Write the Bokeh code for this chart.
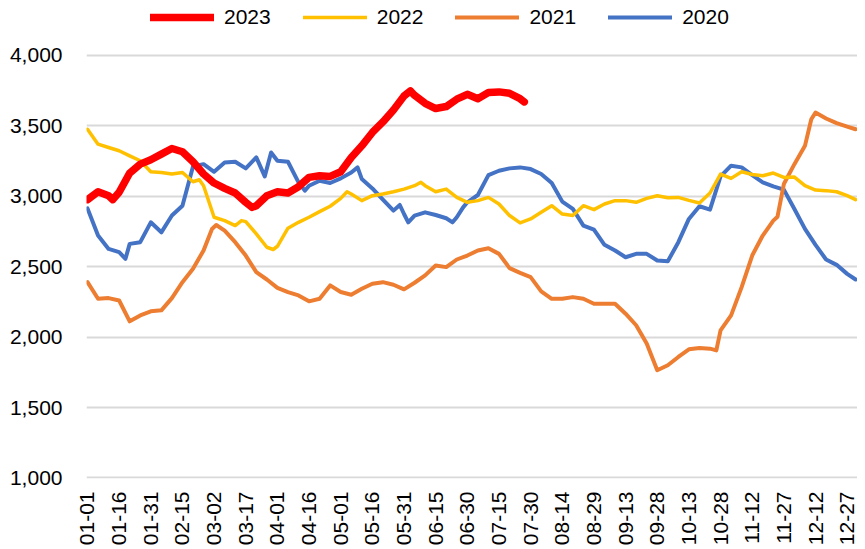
import math
from bokeh.plotting import figure
from bokeh.models import (Range1d, FixedTicker, NumeralTickFormatter, Legend, LegendItem)
from bokeh.embed import file_html
from bokeh.resources import INLINE

# ---- data (day of year index, value) ----
tick_days = [0, 15, 30, 45, 60, 75, 90, 105, 120, 135, 150, 165, 180, 195, 210, 225,
             240, 255, 270, 285, 300, 315, 330, 345, 360]
tick_labels = ["01-01", "01-16", "01-31", "02-15", "03-02", "03-17", "04-01", "04-16",
               "05-01", "05-16", "05-31", "06-15", "06-30", "07-15", "07-30", "08-14",
               "08-29", "09-13", "09-28", "10-13", "10-28", "11-12", "11-27", "12-12", "12-27"]
y_ticks = [1000, 1500, 2000, 2500, 3000, 3500, 4000]

d2023 = [0, 5, 10, 12, 15, 20, 25, 30, 35, 40, 45, 50, 55, 60, 65, 70, 75, 78, 80, 85, 90,
         95, 100, 105, 110, 115, 120, 125, 130, 135, 140, 145, 150, 153, 155, 160, 165, 170,
         175, 180, 185, 190, 195, 200, 205, 207]
v2023 = [2976, 3032, 3004, 2976, 3028, 3165, 3228, 3259, 3299, 3339, 3316, 3245, 3158, 3094,
         3056, 3023, 2957, 2921, 2933, 3004, 3032, 3023, 3068, 3134, 3146, 3141, 3174, 3275,
         3358, 3453, 3528, 3613, 3712, 3748, 3717, 3660, 3623, 3637, 3689, 3724, 3693, 3736,
         3741, 3731, 3693, 3670]

d2022 = [0, 5, 10, 15, 20, 25, 30, 35, 40, 45, 50, 53, 55, 60, 65, 70, 73, 75, 80, 85, 88, 90,
         95, 100, 105, 110, 115, 120, 123, 125, 130, 135, 140, 145, 150, 155, 158, 160, 165,
         170, 175, 180, 185, 190, 195, 200, 205, 210, 215, 220, 225, 230, 235, 240, 245, 250,
         255, 260, 265, 270, 275, 280, 285, 290, 295, 300, 305, 310, 315, 320, 325, 330, 335,
         340, 345, 350, 355, 360, 364]
v2022 = [3476, 3370, 3346, 3323, 3287, 3252, 3174, 3169, 3158, 3169, 3103, 3117, 3075, 2851,
         2827, 2792, 2827, 2820, 2733, 2638, 2622, 2645, 2773, 2815, 2851, 2891, 2929, 2985,
         3032, 3016, 2969, 3004, 3016, 3032, 3051, 3075, 3099, 3075, 3032, 3051, 2992, 2957,
         2969, 2992, 2945, 2863, 2811, 2839, 2886, 2933, 2874, 2863, 2933, 2905, 2945, 2969,
         2969, 2957, 2985, 3004, 2990, 2992, 2971, 2952, 3023, 3158, 3127, 3174, 3155, 3146,
         3165, 3134, 3136, 3075, 3044, 3040, 3032, 3004, 2976]

d2021 = [0, 5, 10, 15, 20, 25, 30, 35, 40, 45, 50, 55, 59, 61, 65, 70, 75, 80, 85, 90, 95,
         100, 105, 110, 115, 120, 125, 130, 135, 140, 145, 150, 155, 160, 165, 170, 175, 180,
         185, 190, 195, 200, 205, 210, 215, 220, 225, 230, 235, 240, 245, 250, 255, 260, 265,
         270, 275, 280, 285, 290, 295, 298, 300, 305, 310, 315, 320, 325, 327, 330, 335, 340,
         343, 345, 350, 355, 360, 364]
v2021 = [2390, 2272, 2277, 2260, 2112, 2154, 2183, 2190, 2277, 2390, 2485, 2615, 2768, 2796,
         2756, 2674, 2579, 2461, 2409, 2350, 2320, 2296, 2254, 2272, 2367, 2320, 2301, 2343,
         2379, 2390, 2372, 2339, 2386, 2438, 2508, 2497, 2551, 2579, 2615, 2631, 2591, 2490,
         2456, 2426, 2325, 2272, 2272, 2284, 2272, 2237, 2237, 2237, 2166, 2084, 1954, 1765,
         1800, 1859, 1913, 1923, 1918, 1906, 2048, 2154, 2355, 2579, 2721, 2827, 2855, 3087,
         3228, 3358, 3547, 3594, 3552, 3519, 3495, 3476]

d2020 = [0, 5, 10, 15, 18, 20, 25, 30, 35, 40, 45, 50, 55, 60, 65, 70, 75, 80, 84, 87, 90, 95,
         100, 103, 105, 110, 115, 120, 125, 128, 130, 135, 140, 145, 148, 150, 152, 155, 160,
         165, 170, 173, 175, 178, 180, 185, 190, 195, 200, 205, 210, 215, 220, 225, 230, 235,
         240, 245, 250, 255, 260, 265, 270, 275, 280, 285, 290, 295, 300, 305, 310, 315, 320,
         325, 330, 335, 340, 345, 350, 355, 360, 364]
v2020 = [2914, 2721, 2626, 2603, 2556, 2662, 2674, 2815, 2744, 2863, 2933, 3212, 3228, 3174,
         3240, 3245, 3198, 3276, 3141, 3311, 3252, 3245, 3099, 3040, 3075, 3110, 3094, 3127,
         3169, 3205, 3122, 3056, 2976, 2898, 2938, 2874, 2815, 2863, 2886, 2867, 2844, 2815,
         2851, 2921, 2957, 3009, 3150, 3181, 3198, 3205, 3193, 3158, 3094, 2962, 2910, 2792,
         2763, 2655, 2615, 2567, 2591, 2591, 2544, 2538, 2674, 2839, 2929, 2905, 3141, 3217,
         3205, 3150, 3099, 3070, 3047, 2910, 2768, 2655, 2551, 2513, 2449, 2409]

FONT = "Liberation Sans"
FS = "21px"

p = figure(width=857, height=548, output_backend="svg", toolbar_location=None,
           x_range=Range1d(-0.47, 364.9), y_range=Range1d(996, 4390),
           min_border_left=86, min_border_right=0, min_border_top=0, min_border_bottom=70)
p.outline_line_color = None
p.background_fill_color = "white"
p.border_fill_color = "white"

r20 = p.line(d2020, v2020, line_color="#4472C4", line_width=4, line_join="round", line_cap="round")
r21 = p.line(d2021, v2021, line_color="#ED7D31", line_width=4, line_join="round", line_cap="round")
r22 = p.line(d2022, v2022, line_color="#FFC000", line_width=3.5, line_join="round", line_cap="round")
r23 = p.line(d2023, v2023, line_color="#FF0000", line_width=7.5, line_join="round", line_cap="round")

# axes
p.xaxis.ticker = FixedTicker(ticks=tick_days)
p.xaxis.major_label_overrides = {d: s for d, s in zip(tick_days, tick_labels)}
p.xaxis.major_label_orientation = math.pi / 2
p.xaxis.major_label_standoff = 13
p.yaxis.ticker = FixedTicker(ticks=y_ticks)
p.yaxis.formatter = NumeralTickFormatter(format="0,0")
p.yaxis.major_label_standoff = 24
for ax in (p.xaxis[0], p.yaxis[0]):
    ax.axis_line_color = None
    ax.major_tick_line_color = None
    ax.minor_tick_line_color = None
    ax.major_tick_out = 0
    ax.major_tick_in = 0
    ax.major_label_text_font = FONT
    ax.major_label_text_font_size = FS
    ax.major_label_text_color = "#000000"

p.xgrid.visible = False
p.ygrid.ticker = FixedTicker(ticks=y_ticks)
p.ygrid.grid_line_color = "#D9D9D9"
p.ygrid.grid_line_width = 2

legend = Legend(items=[LegendItem(label="2023", renderers=[r23]),
                       LegendItem(label="2022", renderers=[r22]),
                       LegendItem(label="2021", renderers=[r21]),
                       LegendItem(label="2020", renderers=[r20])],
                orientation="horizontal", location=(64, 449))
legend.label_text_font = FONT
legend.label_text_font_size = FS
legend.label_text_color = "#000000"
legend.glyph_width = 64
legend.glyph_height = 20
legend.label_height = 20
legend.label_standoff = 10
legend.spacing = 32
legend.padding = 0
legend.margin = 0
legend.border_line_color = None
legend.background_fill_alpha = 0
p.add_layout(legend)

open("out.html", "w").write(file_html(p, INLINE))
